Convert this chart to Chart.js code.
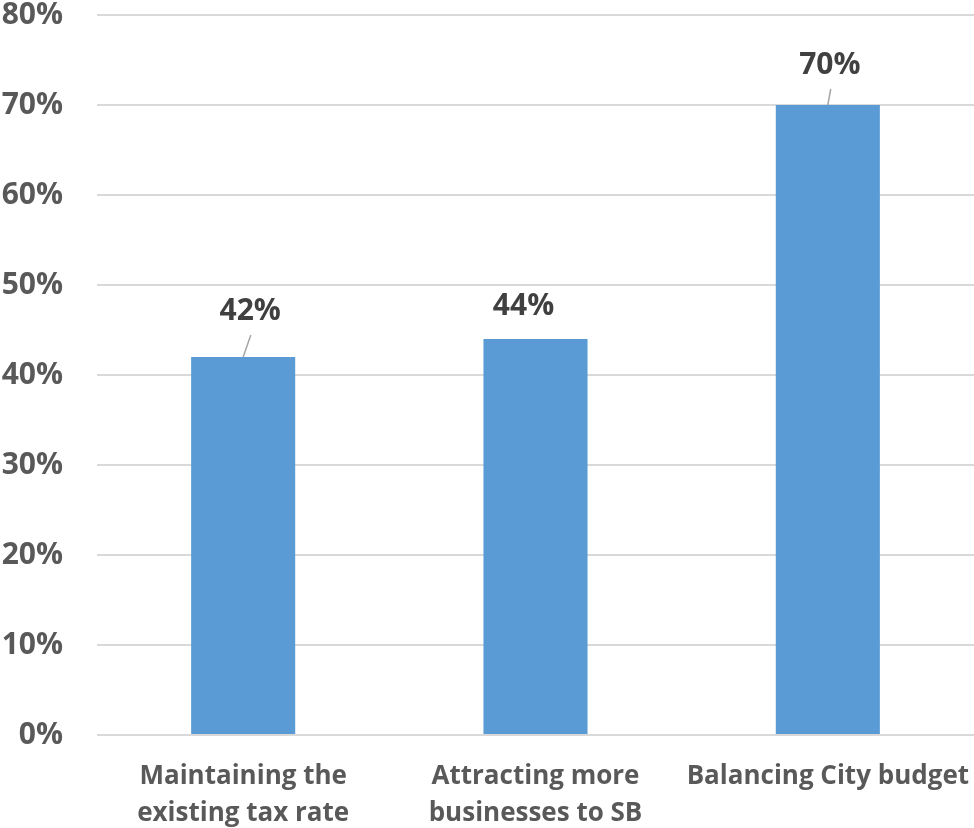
<!DOCTYPE html>
<html>
<head>
<meta charset="utf-8">
<script src="https://cdn.jsdelivr.net/npm/chart.js@4.4.1/dist/chart.umd.min.js"></script>
<style>
  html, body { margin: 0; padding: 0; background: #ffffff; }
  #wrap { width: 974px; height: 828px; position: relative; }
</style>
</head>
<body>
<div id="wrap"><canvas id="chart"></canvas></div>
<script>
// Data
const categories = [
    ['Maintaining the', 'existing tax rate'],
    ['Attracting more', 'businesses to SB'],
    ['Balancing City budget']
];
const values = [42, 44, 70];
const yTicks = [0, 10, 20, 30, 40, 50, 60, 70, 80];

// Label placement (pixels from the bar top), leader line on/off
const labelPlacement = [
    { dx: 7, dy: 46, leader: true },
    { dx: -12, dy: 33, leader: false },
    { dx: 2, dy: 40, leader: true }
];

const FONT = '"Open Sans", sans-serif';

// Draws value labels above bars with small leader lines
const barLabels = {
    id: 'barLabels',
    afterDatasetsDraw(chart) {
        const ctx = chart.ctx;
        const meta = chart.getDatasetMeta(0);
        ctx.save();
        meta.data.forEach((bar, i) => {
            const p = labelPlacement[i];
            const lx = bar.x + p.dx;
            const ly = bar.y - p.dy;
            if (p.leader) {
                ctx.strokeStyle = '#a6a6a6';
                ctx.lineWidth = 1.5;
                ctx.beginPath();
                ctx.moveTo(bar.x, bar.y);
                ctx.lineTo(bar.x + p.dx * 0.95 + 1, ly + 24);
                ctx.stroke();
            }
            ctx.fillStyle = '#404040';
            ctx.font = 'bold 30px ' + FONT;
            ctx.textAlign = 'center';
            ctx.textBaseline = 'middle';
            ctx.fillText(values[i] + '%', lx, ly);
        });
        ctx.restore();
    }
};

new Chart(document.getElementById('chart').getContext('2d'), {
    type: 'bar',
    data: {
        labels: categories,
        datasets: [{
            data: values,
            backgroundColor: '#5b9bd5',
            borderWidth: 0,
            barPercentage: 0.356,
            categoryPercentage: 1
        }]
    },
    options: {
        responsive: true,
        maintainAspectRatio: false,
        animation: false,
        layout: { padding: { left: 0, right: 0, top: 15, bottom: 0 } },
        plugins: {
            legend: { display: false },
            tooltip: { enabled: false }
        },
        scales: {
            x: {
                grid: { display: false, drawTicks: false },
                border: { display: false },
                ticks: {
                    color: '#595959',
                    font: { family: FONT, size: 26, weight: 'bold', lineHeight: 1.42 },
                    padding: 23,
                    maxRotation: 0,
                    autoSkip: false
                },
                afterFit(scale) {
                    scale.height = 93;
                    scale.paddingLeft = 0;
                    scale.paddingRight = 0;
                }
            },
            y: {
                min: 0,
                max: 80,
                afterBuildTicks(scale) {
                    scale.ticks = yTicks.map(v => ({ value: v }));
                },
                grid: { color: '#d9d9d9', lineWidth: 2, drawTicks: false },
                border: { display: false },
                ticks: {
                    color: '#595959',
                    font: { family: FONT, size: 30, weight: 'bold' },
                    padding: 34,
                    callback: v => v + '%'
                },
                afterFit(scale) {
                    scale.width = 97;
                    scale.paddingTop = 0;
                    scale.paddingBottom = 0;
                }
            }
        }
    },
    plugins: [barLabels]
});
</script>
</body>
</html>
